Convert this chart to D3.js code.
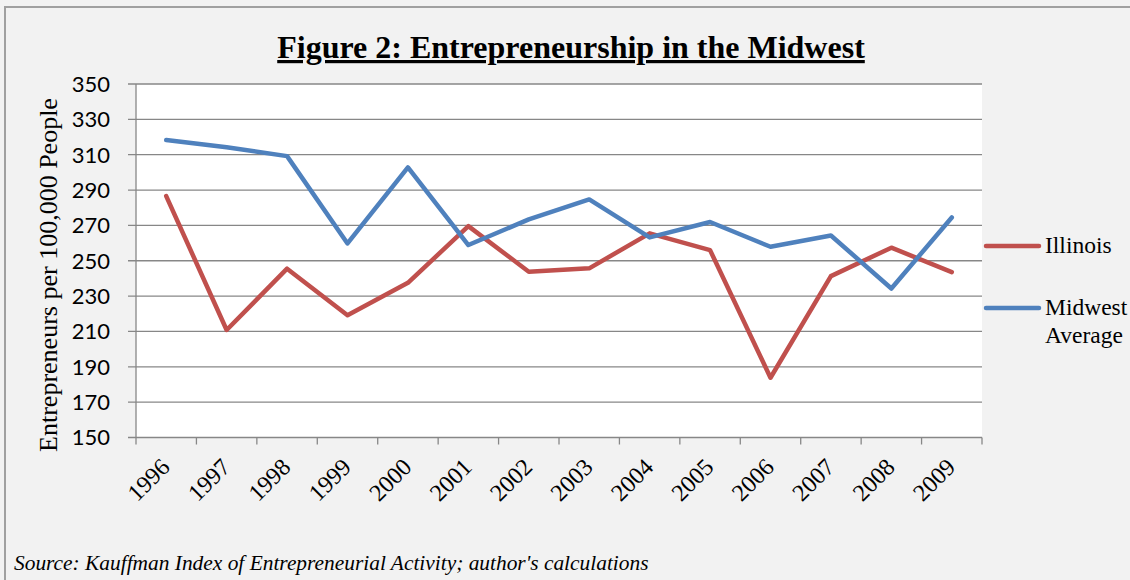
<!DOCTYPE html>
<html><head><meta charset="utf-8">
<script src="https://cdn.jsdelivr.net/npm/d3@7"></script>
<style>body{margin:0;background:#fff}svg{display:block}</style>
</head><body>
<script>
const years = ["1996","1997","1998","1999","2000","2001","2002","2003","2004","2005","2006","2007","2008","2009"];
const illinois = [286.6,210.8,245.5,219.2,237.5,269.6,243.8,245.7,265.5,256.0,183.8,241.3,257.4,243.6];
const midwest = [318.3,314.2,309.2,259.8,302.8,258.9,273.4,284.7,263.2,271.9,257.9,264.3,234.3,274.5];
const yTicks = [150,170,190,210,230,250,270,290,310,330,350];
const seriesNames = ["Illinois","Midwest Average"];
const colors = ["#c0504d","#4f81bd"];

const W=1130,H=580;
const serif="'Liberation Serif', 'Times New Roman', serif";
const svg=d3.select("body").append("svg").attr("width",W).attr("height",H);
svg.append("rect").attr("width",W).attr("height",H).attr("fill","#f2f2f2");
svg.append("path").attr("d","M5,580V7H1130").attr("fill","none").attr("stroke","#a0a0a0").attr("stroke-width",2);

const pL=136,pR=982,pT=84,pB=437.5;
const x=d3.scaleBand().domain(years).range([pL,pR]);
const y=d3.scaleLinear().domain([150,350]).range([pB,pT]);

svg.append("rect").attr("x",pL).attr("y",pT).attr("width",pR-pL).attr("height",pB-pT).attr("fill","#fff");

// gridlines
svg.append("g").selectAll("line").data(yTicks).join("line")
  .attr("x1",pL-8).attr("x2",pR).attr("y1",d=>y(d)).attr("y2",d=>y(d))
  .attr("stroke","#878787").attr("stroke-width",1.3);

// y axis line
svg.append("line").attr("x1",pL).attr("x2",pL).attr("y1",pT).attr("y2",pB).attr("stroke","#878787").attr("stroke-width",1.3);
// x ticks at band boundaries
const bounds=years.map(d=>x(d)).concat([pR]);
svg.append("g").selectAll("line").data(bounds).join("line")
  .attr("x1",d=>d).attr("x2",d=>d).attr("y1",pB).attr("y2",pB+7)
  .attr("stroke","#878787").attr("stroke-width",1.3);

// y labels
svg.append("g").selectAll("text").data(yTicks).join("text")
  .attr("x",110).attr("y",d=>y(d)).attr("dy","0.36em").attr("text-anchor","end")
  .attr("font-family","Lato, 'Open Sans', sans-serif").attr("font-size",22).attr("fill","#000")
  .text(d=>d);

// x labels
svg.append("g").selectAll("text").data(years).join("text")
  .attr("text-anchor","end")
  .attr("transform",d=>`translate(${x(d)+x.bandwidth()/2+5},${pB+31}) rotate(-45)`)
  .attr("font-family",serif).attr("font-size",24).attr("fill","#000")
  .text(d=>d);

// y title
svg.append("text").attr("transform",`translate(57,275) rotate(-90)`)
  .attr("text-anchor","middle").attr("font-family",serif).attr("font-size",26)
  .text("Entrepreneurs per 100,000 People");

// title
svg.append("text").attr("x",571).attr("y",58).attr("text-anchor","middle")
  .attr("font-family",serif).attr("font-weight","bold").attr("font-size",32)
  .attr("text-decoration","underline")
  .text("Figure 2: Entrepreneurship in the Midwest");

// lines
const line=d3.line().x((d,i)=>x(years[i])+x.bandwidth()/2).y(d=>y(d));
[illinois,midwest].forEach((s,i)=>{
  svg.append("path").attr("d",line(s)).attr("fill","none").attr("stroke",colors[i])
    .attr("stroke-width",4.5).attr("stroke-linejoin","round").attr("stroke-linecap","round");
});

// legend
const lg=[{y:246,lines:["Illinois"]},{y:308,lines:["Midwest","Average"]}];
lg.forEach((l,i)=>{
  svg.append("line").attr("x1",986).attr("x2",1039).attr("y1",l.y).attr("y2",l.y)
    .attr("stroke",colors[i]).attr("stroke-width",4.5).attr("stroke-linecap","round");
  const t=svg.append("text").attr("x",1045).attr("y",l.y+7)
    .attr("font-family",serif).attr("font-size",23.5);
  l.lines.forEach((s,j)=>t.append("tspan").attr("x",1045).attr("dy",j?28:0).text(s));
});

// source
svg.append("text").attr("x",14).attr("y",570).attr("font-family",serif)
  .attr("font-style","italic").attr("font-size",21.4).text("Source: Kauffman Index of Entrepreneurial Activity; author's calculations");
</script>
</body></html>
